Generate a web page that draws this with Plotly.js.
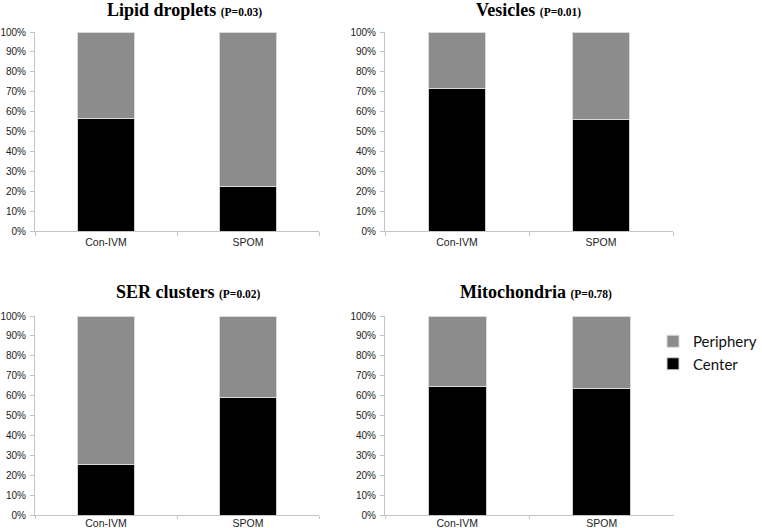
<!DOCTYPE html>
<html>
<head>
<meta charset="utf-8">
<script src="https://cdn.plot.ly/plotly-3.0.1.min.js"></script>
<style>html,body{margin:0;padding:0;background:#fff;}#chart{width:762px;height:528px;}</style>
</head>
<body>
<div id="chart"></div>
<script>
const categories = ['Con-IVM', 'SPOM'];
const panelNames = ['Lipid droplets', 'Vesicles', 'SER clusters', 'Mitochondria'];
const pValues = ['P=0.03', 'P=0.01', 'P=0.02', 'P=0.78'];
const centerLipid = [0.563, 0.223];
const centerVesicles = [0.714, 0.561];
const centerSER = [0.255, 0.590];
const centerMito = [0.645, 0.637];
const yTickVals = [0, 0.1, 0.2, 0.3, 0.4, 0.5, 0.6, 0.7, 0.8, 0.9, 1.0];
const yTickText = ['0%', '10%', '20%', '30%', '40%', '50%', '60%', '70%', '80%', '90%', '100%'];

const centers = [centerLipid, centerVesicles, centerSER, centerMito];
const W = 762, H = 528;
const px = v => v / W, py = v => 1 - v / H;
const xDomains = [[px(35), px(319)], [px(385), px(673)], [px(35), px(319)], [px(385), px(674)]];
const yDomains = [[py(231), py(32)], [py(231), py(32)], [py(515), py(316)], [py(515), py(316)]];
const titlePos = [[184, 10], [528, 10], [188, 292], [536, 292]];

const traces = [];
const layout = {
  width: W, height: H,
  margin: {l: 0, r: 0, t: 0, b: 0},
  paper_bgcolor: '#fff', plot_bgcolor: '#fff',
  barmode: 'stack', bargap: 0.6,
  showlegend: true,
  legend: {x: 1, y: py(325), xanchor: 'right', yanchor: 'top', traceorder: 'reversed',
           font: {family: 'Lato, Noto Sans, sans-serif', size: 15, color: '#111'},
           itemwidth: 30, bgcolor: 'rgba(0,0,0,0)'},
  annotations: [],
  font: {family: 'Liberation Sans, Arial, sans-serif', color: '#222'}
};

centers.forEach((c, i) => {
  const sfx = i === 0 ? '' : String(i + 1);
  const periphery = c.map(v => 1 - v);
  const bottomRow = i >= 2;
  traces.push({type: 'bar', x: categories, y: c, name: 'Center', xaxis: 'x' + sfx, yaxis: 'y' + sfx,
    marker: {color: '#000000', line: {color: '#d0d0d0', width: 1}}, showlegend: i === 0, legendgroup: 'c', hoverinfo: 'y'});
  traces.push({type: 'bar', x: categories, y: periphery, name: 'Periphery', xaxis: 'x' + sfx, yaxis: 'y' + sfx,
    marker: {color: '#8c8c8c', line: {color: '#d9d9d9', width: 1}}, showlegend: i === 0, legendgroup: 'p', hoverinfo: 'y'});
  layout['xaxis' + sfx] = {domain: xDomains[i], anchor: 'y' + sfx, type: 'category',
    showline: true, linecolor: '#c4c4c4', linewidth: 1, ticks: 'outside', tickson: 'boundaries',
    ticklen: bottomRow ? 3 : 4, tickcolor: '#c4c4c4', showgrid: false, zeroline: false,
    ticklabelstandoff: bottomRow ? -2 : 1, automargin: false,
    tickfont: {family: 'Liberation Sans, Arial, sans-serif', size: 10.5, color: '#222'}, fixedrange: true};
  layout['yaxis' + sfx] = {domain: yDomains[i], anchor: 'x' + sfx, range: [0, 1],
    tickvals: yTickVals, ticktext: yTickText, automargin: false,
    showline: true, linecolor: '#c4c4c4', linewidth: 1, ticks: 'outside', ticklen: 4, tickcolor: '#c4c4c4',
    showgrid: false, zeroline: false, ticklabelstandoff: 2,
    tickfont: {family: 'Liberation Sans, Arial, sans-serif', size: 10, color: '#222'}, fixedrange: true};
  layout.annotations.push({xref: 'paper', yref: 'paper', x: px(titlePos[i][0]), y: py(titlePos[i][1]),
    xanchor: 'center', yanchor: 'middle', showarrow: false,
    text: '<b>' + panelNames[i] + '</b> <b><span style="font-size:11.5px">(' + pValues[i] + ')</span></b>',
    font: {family: 'Liberation Serif, Times New Roman, serif', size: 18, color: '#000'}});
});

Plotly.newPlot('chart', traces, layout, {displayModeBar: false, staticPlot: true});
</script>
</body>
</html>
